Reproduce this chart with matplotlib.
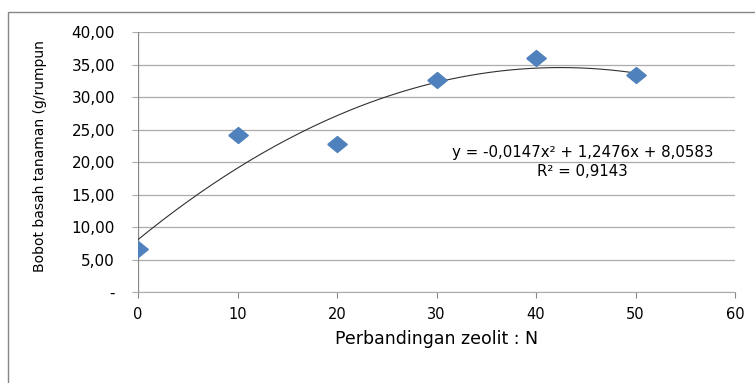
import numpy as np
import matplotlib
matplotlib.use("Agg")
import matplotlib.pyplot as plt
from matplotlib.patches import Rectangle
from matplotlib.ticker import FuncFormatter

# data
ratio = [0, 10, 20, 30, 40, 50]
weight = [6.6, 24.2, 22.8, 32.6, 36.0, 33.4]
# trendline coefficients as printed on the chart (a, b, c)
trend_coef = [-0.0147, 1.2476, 8.0583]
r_squared = 0.9143

x_ticks = [0, 10, 20, 30, 40, 50, 60]
y_ticks = [0, 5, 10, 15, 20, 25, 30, 35, 40]


def ytick_fmt(v, pos):
    if v == 0:
        return "-"
    return ("%.2f" % v).replace(".", ",")


def comma(v):
    return ("%.4f" % v).replace(".", ",")


fig = plt.figure(figsize=(7.55, 3.83), dpi=100)
fig.patches.append(Rectangle((8 / 755, -0.1), 1.2, 1 - 12 / 383 + 0.1,
                             transform=fig.transFigure, fill=False,
                             edgecolor="#868686", linewidth=1.0))

ax = fig.add_axes([138 / 755, 1 - 292 / 383, 597 / 755, 260 / 383])

# excel style diamond, a bit wider than tall
diamond = [(-1, 0), (0, 0.82), (1, 0), (0, -0.82), (-1, 0)]

xs = np.linspace(ratio[0], ratio[-1], 200)
ax.plot(xs, np.polyval(trend_coef, xs), color="#303030", linewidth=0.8, zorder=2)
ax.plot(ratio, weight, linestyle="none", marker=diamond, markersize=14,
        color="#4F81BD", markeredgecolor="#4F81BD", zorder=3)

ax.set_xlim(0, 60)
ax.set_ylim(0, 40)
ax.set_xticks(x_ticks)
ax.set_yticks(y_ticks)
ax.yaxis.set_major_formatter(FuncFormatter(ytick_fmt))
ax.grid(axis="y", color="#ABABAB", linewidth=0.9)
ax.set_axisbelow(True)

for s in ["top", "right"]:
    ax.spines[s].set_visible(False)
ax.spines["left"].set_visible(False)
ax.spines["bottom"].set_color("#ABABAB")
ax.axvline(0, color="#868686", linewidth=0.9, zorder=1)

ax.tick_params(axis="x", direction="out", length=4, color="#868686",
               labelsize=10.5, pad=7)
ax.tick_params(axis="y", direction="out", length=4.5, color="#ABABAB",
               labelsize=11, pad=12)
for lab in ax.get_xticklabels() + ax.get_yticklabels():
    lab.set_family("DejaVu Sans")

ax.set_xlabel("Perbandingan zeolit : N", fontsize=12.5, family="DejaVu Sans")
ax.xaxis.set_label_coords(0.5, -0.145)
ax.set_ylabel("Bobot basah tanaman (g/rumpun", fontsize=10,
              family=["Liberation Sans Narrow", "DejaVu Sans"])
ax.yaxis.set_label_coords(-0.152, 0.523)

eq = "y = %sx² + %sx + %s" % (comma(trend_coef[0]), comma(trend_coef[1]),
                               comma(trend_coef[2]))
ax.text(44.7, 21.4, eq, ha="center", va="center", fontsize=10.8,
        family="DejaVu Sans")
ax.text(44.7, 18.5, "R² = " + comma(r_squared),
        ha="center", va="center", fontsize=10.8, family="DejaVu Sans")

fig.savefig("out.png", dpi=100)
